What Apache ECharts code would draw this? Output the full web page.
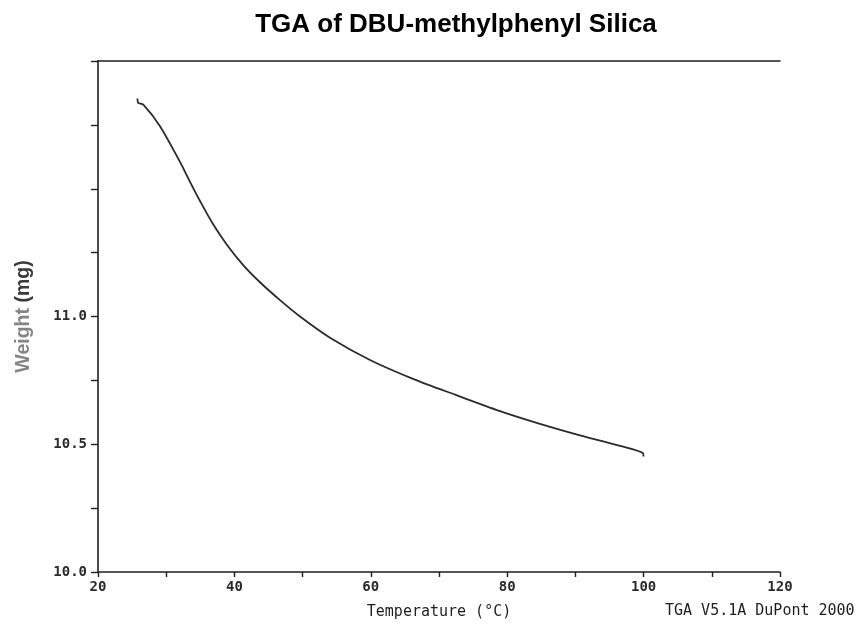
<!DOCTYPE html>
<html>
<head>
<meta charset="utf-8">
<script src="https://cdn.jsdelivr.net/npm/echarts@6/dist/echarts.min.js"></script>
<style>
html,body{margin:0;padding:0;background:#fff;}
#chart{width:861px;height:625px;}
</style>
</head>
<body>
<div id="chart"></div>
<script>
// Data
var temperature = [25.79, 25.87, 26.64, 29.09, 32.02, 33.49, 34.96, 36.86, 38.87, 41.26, 43.75, 46.69, 49.62, 54.02, 59.88, 66.19, 72.35, 78.94, 84.81, 90.67, 96.54, 99.91, 99.98];
var weight = [11.853, 11.837, 11.829, 11.745, 11.605, 11.527, 11.452, 11.362, 11.282, 11.202, 11.134, 11.064, 11.000, 10.917, 10.830, 10.756, 10.694, 10.630, 10.580, 10.535, 10.494, 10.465, 10.452];
var yLabelValues = [10.0, 10.5, 11.0];
var xLabelValues = [20, 40, 60, 80, 100, 120];
var titleText = 'TGA of DBU-methylphenyl Silica';
var xName = 'Temperature (\u00B0C)';
var footerText = 'TGA V5.1A DuPont 2000';

var points = temperature.map(function (t, i) { return [t, weight[i]]; });
var mono = 'DejaVu Sans Mono';
var ink = '#1e1e1e';

var chart = echarts.init(document.getElementById('chart'), null, {renderer: 'canvas'});
chart.setOption({
  backgroundColor: '#ffffff',
  animation: false,
  grid: {left: 98, right: 81, top: 61, bottom: 48, containLabel: false},
  xAxis: [{
    type: 'value', min: 20, max: 120, interval: 10,
    name: xName, nameLocation: 'middle', nameGap: 33,
    nameTextStyle: {fontFamily: mono, fontSize: 15, color: ink},
    axisLine: {show: true, lineStyle: {color: ink, width: 1.6}},
    axisTick: {show: true, inside: false, length: 5, lineStyle: {color: ink, width: 1.4}},
    axisLabel: {
      margin: 8, fontFamily: mono, fontSize: 14, fontWeight: 'bold', color: '#2a2a2a',
      formatter: function (v) { return xLabelValues.indexOf(v) >= 0 ? String(v) : ''; }
    },
    splitLine: {show: false}
  }, {
    type: 'value', min: 20, max: 120, position: 'top',
    axisLine: {show: true, onZero: false, lineStyle: {color: ink, width: 1.6}},
    axisTick: {show: false}, axisLabel: {show: false}, splitLine: {show: false}
  }],
  yAxis: {
    type: 'value', min: 10, max: 12, interval: 0.25,
    name: '{a|Weight }{b|(mg)}', nameLocation: 'middle', nameGap: 64, nameRotate: 90,
    nameTextStyle: {
      rich: {
        a: {fontFamily: 'Liberation Sans', fontWeight: 'bold', fontSize: 19.5, color: '#858585'},
        b: {fontFamily: 'Liberation Sans', fontWeight: 'bold', fontSize: 19.5, color: '#3a3a3a'}
      }
    },
    axisLine: {show: true, lineStyle: {color: ink, width: 1.6}},
    axisTick: {show: true, inside: false, length: 7, lineStyle: {color: ink, width: 1.4}},
    axisLabel: {
      margin: 11, fontFamily: mono, fontSize: 14, fontWeight: 'bold', color: '#2a2a2a',
      formatter: function (v) {
        for (var i = 0; i < yLabelValues.length; i++) {
          if (Math.abs(v - yLabelValues[i]) < 1e-6) return v.toFixed(1);
        }
        return '';
      }
    },
    splitLine: {show: false}
  },
  series: [{
    type: 'line', xAxisIndex: 0, data: points, smooth: 0.3, symbol: 'none',
    lineStyle: {color: '#2b2b2b', width: 1.8}
  }],
  graphic: [{
    type: 'text', x: 456, y: 25,
    style: {text: titleText, fontFamily: 'Liberation Sans', fontWeight: 'bold', fontSize: 26,
      fill: '#000', textAlign: 'center', textVerticalAlign: 'middle'}
  }, {
    type: 'text', x: 665, y: 611,
    style: {text: footerText, fontFamily: mono, fontSize: 15, fill: ink,
      textAlign: 'left', textVerticalAlign: 'middle'}
  }]
});
</script>
</body>
</html>
